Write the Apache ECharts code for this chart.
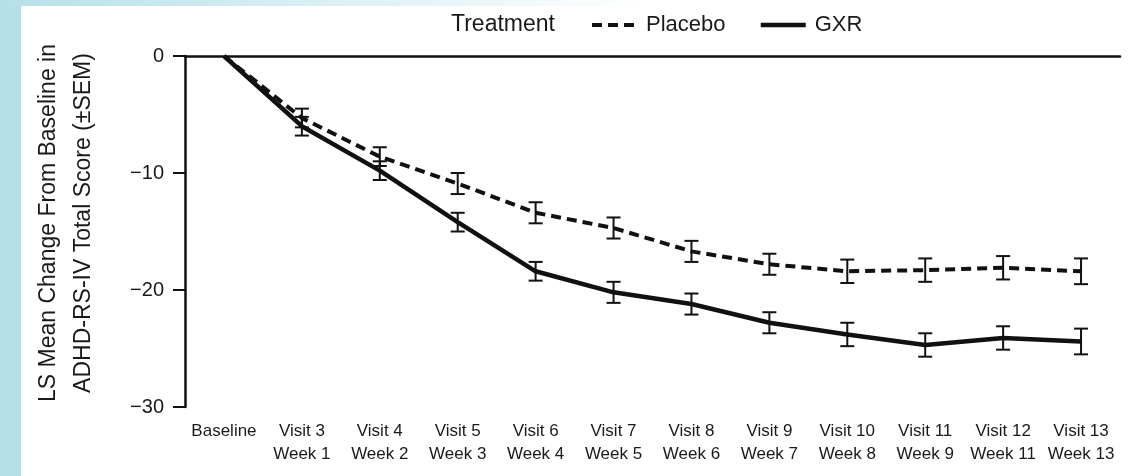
<!DOCTYPE html>
<html>
<head>
<meta charset="utf-8">
<script src="https://cdn.jsdelivr.net/npm/echarts@6/dist/echarts.min.js"></script>
<style>
  html, body { margin: 0; padding: 0; background: #fff; }
  #chart { width: 1135px; height: 476px; }
</style>
</head>
<body>
<div id="chart"></div>
<script>
// categories on the x axis (two-line labels)
const visits = ['Baseline', 'Visit 3\nWeek 1', 'Visit 4\nWeek 2', 'Visit 5\nWeek 3', 'Visit 6\nWeek 4',
  'Visit 7\nWeek 5', 'Visit 8\nWeek 6', 'Visit 9\nWeek 7', 'Visit 10\nWeek 8', 'Visit 11\nWeek 9',
  'Visit 12\nWeek 11', 'Visit 13\nWeek 13'];

// LS mean change from baseline
const placebo = [0, -5.3, -8.6, -10.9, -13.4, -14.7, -16.7, -17.8, -18.4, -18.3, -18.1, -18.4];
const gxr = [0, -6.0, -9.8, -14.2, -18.4, -20.2, -21.2, -22.8, -23.8, -24.7, -24.1, -24.4];

// SEM (half-length of the error bars)
const placeboSem = [0, 0.8, 0.8, 0.9, 0.9, 0.9, 0.9, 0.9, 1.0, 1.0, 1.0, 1.1];
const gxrSem = [0, 0.8, 0.8, 0.8, 0.8, 0.9, 0.9, 0.9, 1.0, 1.0, 1.0, 1.1];

const yTicks = [0, -10, -20, -30];

const FONT = '"Liberation Sans", Arial, sans-serif';
const DASH = [10, 6];

function errData(mean, sem) {
  const out = [];
  for (let i = 1; i < mean.length; i++) {
    out.push([i, mean[i] - sem[i], mean[i] + sem[i]]);
  }
  return out;
}

function renderErr(params, api) {
  const lo = api.coord([api.value(0), api.value(1)]);
  const hi = api.coord([api.value(0), api.value(2)]);
  const cap = 7;
  const style = { stroke: '#111', lineWidth: 2 };
  return {
    type: 'group',
    children: [
      { type: 'line', shape: { x1: lo[0], y1: lo[1], x2: hi[0], y2: hi[1] }, style: style },
      { type: 'line', shape: { x1: lo[0] - cap, y1: lo[1], x2: lo[0] + cap, y2: lo[1] }, style: style },
      { type: 'line', shape: { x1: hi[0] - cap, y1: hi[1], x2: hi[0] + cap, y2: hi[1] }, style: style }
    ]
  };
}

const chart = echarts.init(document.getElementById('chart'));

const option = {
  animation: false,
  backgroundColor: '#fff',
  textStyle: { fontFamily: FONT, color: '#1a1a1a' },
  graphic: [
    // light blue frame pieces of the original slide
    { type: 'rect', left: 0, top: 0, shape: { width: 21, height: 476 }, style: { fill: '#b5e0ea' }, silent: true },
    {
      type: 'rect', left: 0, top: 0, shape: { width: 650, height: 6 }, silent: true,
      style: {
        fill: new echarts.graphic.LinearGradient(0, 0, 1, 0, [
          { offset: 0, color: '#b5e0ea' },
          { offset: 1, color: 'rgba(255,255,255,1)' }
        ])
      }
    },
    {
      type: 'text', x: 451, y: 25,
      style: { text: 'Treatment', font: '23px ' + FONT, fill: '#1a1a1a', verticalAlign: 'middle' }
    },
    {
      // y axis title, two lines, rotated
      type: 'text', x: 66, y: 223, rotation: Math.PI / 2,
      style: {
        text: 'LS Mean Change From Baseline in\nADHD-RS-IV Total Score (\u00b1SEM)',
        font: '23px ' + FONT, lineHeight: 35, fill: '#1a1a1a', align: 'center', verticalAlign: 'middle'
      }
    }
  ],
  legend: {
    left: 585,
    top: 9,
    itemWidth: 45,
    itemHeight: 14,
    itemGap: 33,
    itemStyle: { opacity: 0 },
    textStyle: { fontFamily: FONT, fontSize: 22, color: '#1a1a1a', padding: [0, 0, 0, 4] },
    data: [
      { name: 'Placebo', lineStyle: { color: '#111', width: 4, type: DASH } },
      { name: 'GXR', lineStyle: { color: '#111', width: 4.5, type: 'solid' } }
    ]
  },
  grid: { left: 185, right: 15, top: 56, bottom: 69 },
  xAxis: {
    type: 'category',
    data: visits,
    boundaryGap: true,
    axisLine: { lineStyle: { color: '#111', width: 2.5 } },
    axisTick: { alignWithLabel: true, length: 10, lineStyle: { color: '#111', width: 2 } },
    axisLabel: { interval: 0, margin: 13, fontSize: 17, lineHeight: 23, color: '#1a1a1a', fontFamily: FONT }
  },
  yAxis: {
    type: 'value',
    min: -30,
    max: 0,
    interval: 10,
    splitLine: { show: false },
    axisLine: { show: true, lineStyle: { color: '#111', width: 2.5 } },
    axisTick: { show: true, length: 12, lineStyle: { color: '#111', width: 2 } },
    axisLabel: {
      margin: 21, fontSize: 20, color: '#1a1a1a', fontFamily: FONT,
      formatter: function (v) { return yTicks.indexOf(v) >= 0 ? String(v).replace('-', '\u2212') : ''; }
    }
  },
  series: [
    {
      name: 'Placebo',
      type: 'line',
      data: placebo,
      symbol: 'none',
      lineStyle: { color: '#111', width: 4, type: DASH },
      itemStyle: { color: '#111' },
      z: 3
    },
    {
      name: 'GXR',
      type: 'line',
      data: gxr,
      symbol: 'none',
      lineStyle: { color: '#111', width: 4.5 },
      itemStyle: { color: '#111' },
      z: 3
    },
    {
      type: 'custom',
      renderItem: renderErr,
      data: errData(placebo, placeboSem),
      encode: { x: 0, y: [1, 2] },
      z: 4
    },
    {
      type: 'custom',
      renderItem: renderErr,
      data: errData(gxr, gxrSem),
      encode: { x: 0, y: [1, 2] },
      z: 4
    }
  ]
};

chart.setOption(option);
</script>
</body>
</html>
